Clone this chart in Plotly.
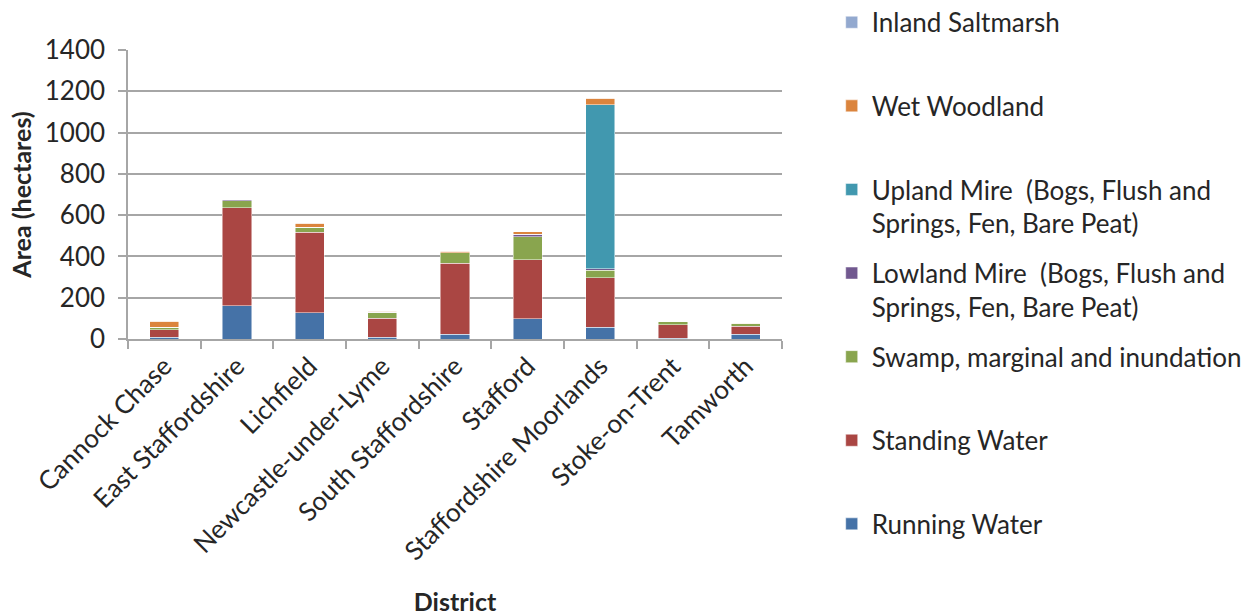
import plotly.graph_objects as go

districts = ["Cannock Chase", "East Staffordshire", "Lichfield", "Newcastle-under-Lyme",
             "South Staffordshire", "Stafford", "Staffordshire Moorlands",
             "Stoke-on-Trent", "Tamworth"]

running_water = [8, 160, 126, 8, 24, 97, 58, 3, 23]
standing_water = [37, 477, 390, 92, 342, 288, 239, 66, 38]
swamp = [13, 32, 26, 26, 53, 110, 35, 15, 12]
lowland_mire = [0, 5, 0, 4, 0, 13, 8, 0, 0]
upland_mire = [0, 0, 0, 0, 0, 0, 796, 0, 0]
wet_woodland = [27, 0, 18, 4, 6, 11, 30, 0, 3]
inland_saltmarsh = [0, 0, 0, 0, 0, 0, 0, 0, 0]

series = [
    ("Running Water", running_water, "#4572A7"),
    ("Standing Water", standing_water, "#AA4643"),
    ("Swamp, marginal and inundation", swamp, "#89A54E"),
    ("Lowland Mire  (Bogs, Flush and<br>Springs, Fen, Bare Peat)", lowland_mire, "#71588F"),
    ("Upland Mire  (Bogs, Flush and<br>Springs, Fen, Bare Peat)", upland_mire, "#4198AF"),
    ("Wet Woodland", wet_woodland, "#DB843D"),
    ("Inland Saltmarsh", inland_saltmarsh, "#93A9CF"),
]

FONT = "Lato, 'Open Sans', sans-serif"
TEXT = "#262626"

fig = go.Figure()
n = len(series)
for i, (name, vals, color) in enumerate(series):
    label = name if "<br>" in name else name + "<br> "
    fig.add_trace(go.Bar(
        x=districts, y=vals, name=label,
        legendgroup=f"g{i}", legendrank=(n - i) * 10,
        marker=dict(color=color, line=dict(color="rgba(255,255,255,0.6)", width=0.8)),
    ))

fig.update_layout(
    barmode="stack",
    bargap=0.6,
    width=1257, height=616,
    margin=dict(l=128, r=475, t=50, b=277, autoexpand=False),
    paper_bgcolor="white", plot_bgcolor="white",
    font=dict(family=FONT, size=26, color=TEXT),
    legend=dict(
        traceorder="grouped",
        x=1.076, xanchor="left", y=1.177, yanchor="top",
        font=dict(family=FONT, size=26, color=TEXT),
        valign="top",
        tracegroupgap=13,
        itemwidth=30,
        maxheight=700,
    ),
    showlegend=True,
)

fig.update_yaxes(
    range=[0, 1400], dtick=200,
    showgrid=True, gridcolor="#A6A6A6", gridwidth=1.5,
    showline=True, linecolor="#A6A6A6", linewidth=1.5,
    ticks="outside", ticklen=8, tickcolor="#A6A6A6", tickwidth=1.5,
    tickfont=dict(size=26, color=TEXT),
    ticklabelstandoff=8,
    zeroline=False,
    title=dict(text="<b>Area (hectares)</b>", font=dict(size=25, color=TEXT), standoff=6),
)

fig.update_xaxes(
    type="category",
    showline=True, linecolor="#A6A6A6", linewidth=1.5,
    ticks="outside", ticklen=8, tickcolor="#A6A6A6", tickwidth=1.5,
    tickson="boundaries",
    tickangle=-45,
    tickfont=dict(size=26, color=TEXT),
    title=dict(text="<b>District</b>", font=dict(size=25, color=TEXT), standoff=40),
)

fig.write_html("out.html")
